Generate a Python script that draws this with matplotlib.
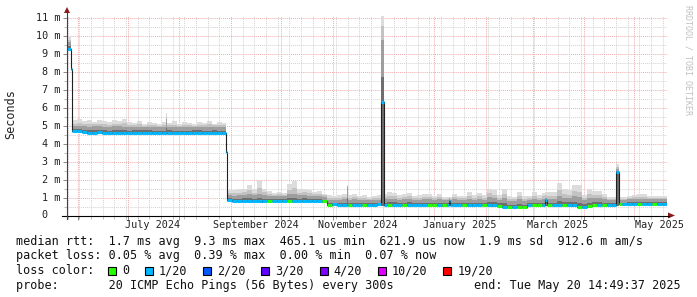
import datetime as dt
import numpy as np
import matplotlib
matplotlib.use("Agg")
import matplotlib.pyplot as plt
import matplotlib.dates as mdates
from matplotlib.lines import Line2D
from matplotlib.patches import Polygon, Rectangle
from matplotlib.ticker import FixedLocator, MultipleLocator, NullFormatter

W, H = 697, 297
MONO = "DejaVu Sans Mono"

start = dt.datetime(2024, 5, 25, 14, 49, 37)
end = dt.datetime(2025, 5, 20, 14, 49, 37)
bin_days = 3  # one value every 3 days

# median rtt in ms, one per bin
median_ms = [
    9.30, 4.72, 4.70, 4.63, 4.60, 4.62, 4.64,
    4.60, 4.58, 4.60, 4.62, 4.60, 4.58, 4.60, 4.60, 4.62, 4.60, 4.59, 4.60, 4.60,
    4.61, 4.60, 4.58, 4.60, 4.60, 4.62, 4.60, 4.60, 4.59, 4.60, 4.60, 4.60,
    0.84, 0.83, 0.82, 0.82, 0.80, 0.82, 0.82, 0.78, 0.80, 0.82,
    0.83, 0.82, 0.80, 0.82, 0.82, 0.83, 0.82, 0.82, 0.80, 0.78,
    0.60, 0.62, 0.60, 0.60, 0.58, 0.60, 0.60, 0.61, 0.60, 0.60, 0.62, 0.60,
    0.60, 0.60, 0.58, 0.60, 0.60, 0.60, 0.61, 0.60, 0.58, 0.60, 0.58, 0.56,
    0.58, 0.58, 0.57, 0.58, 0.58, 0.56, 0.58, 0.58, 0.57, 0.56, 0.55,
    0.48, 0.46, 0.46, 0.47, 0.46,
    0.56, 0.58, 0.58, 0.58, 0.58, 0.57, 0.58, 0.58, 0.57, 0.56,
    0.50, 0.50, 0.52,
    0.58, 0.60, 0.60, 0.60, 0.60,
    0.62, 0.62, 0.63, 0.62, 0.62, 0.63, 0.62, 0.62, 0.64, 0.64,
]

# top of the dark part of the smoke, ms
smoke_mid_ms = [
    9.65,
    4.98, 5.00, 4.96, 4.95, 4.97, 4.98, 4.95, 4.94, 4.96, 4.97, 4.95, 4.93, 4.94,
    4.95, 4.92, 4.94, 4.93, 4.92, 4.93, 4.95, 4.92, 4.94, 4.92, 4.93, 4.92, 4.94,
    4.92, 4.93, 4.95, 4.92, 4.93,
    1.12, 1.10, 1.12, 1.14, 1.20, 1.12, 1.22, 1.12, 1.08, 1.06,
    1.08, 1.06, 1.18, 1.20, 1.12, 1.14, 1.10, 1.08, 1.08, 1.05,
    0.88, 0.86, 0.88, 0.90, 0.88, 0.90, 0.86, 0.88, 0.84, 0.86, 0.88,
    0.90, 0.94, 0.92, 0.88, 0.90, 0.92, 0.86, 0.88, 0.90, 0.90,
    0.86, 0.90, 0.84, 0.84, 0.90, 0.86, 0.86, 0.94, 0.88, 0.92, 0.88,
    1.02, 0.98, 0.86, 1.00, 0.80, 0.78, 0.90, 0.80, 0.84, 0.94, 0.88,
    0.92, 0.94, 0.94, 1.10, 1.00, 0.98, 1.06, 1.04, 0.88, 1.00, 0.96, 0.96, 0.90, 0.86, 0.86,
    0.88, 0.88, 0.90, 0.92, 0.94, 0.94, 0.90, 0.90, 0.90, 0.90,
]

# top of the smoke (max ping), ms
smoke_top_ms = [
    9.95,
    5.30, 5.35, 5.25, 5.30, 5.20, 5.30, 5.25, 5.20, 5.30, 5.25, 5.35, 5.20, 5.15,
    5.25, 5.10, 5.20, 5.15, 5.10, 5.20, 5.15, 5.25, 5.10, 5.20, 5.15, 5.10, 5.20,
    5.15, 5.25, 5.10, 5.20, 5.15,
    1.40, 1.40, 1.45, 1.50, 1.72, 1.45, 1.96, 1.50, 1.35, 1.25,
    1.30, 1.25, 1.75, 1.90, 1.45, 1.50, 1.40, 1.30, 1.35, 1.20,
    1.15, 1.10, 1.15, 1.20, 1.15, 1.20, 1.10, 1.15, 1.05, 1.10, 1.15,
    1.20, 1.30, 1.25, 1.15, 1.20, 1.25, 1.10, 1.15, 1.20, 1.20,
    1.10, 1.20, 1.05, 1.05, 1.20, 1.10, 1.10, 1.30, 1.15, 1.25, 1.15,
    1.49, 1.40, 1.12, 1.49, 1.10, 1.05, 1.30, 1.10, 1.10, 1.30, 1.15,
    1.25, 1.30, 1.30, 1.81, 1.49, 1.40, 1.68, 1.68, 1.12, 1.49, 1.34, 1.34, 1.20, 1.02, 1.02,
    1.02, 1.02, 1.08, 1.12, 1.17, 1.17, 1.06, 1.06, 1.06, 1.06,
]

# loss colour index per bin (0 = no loss, 1 = 1/20)
loss_level = [
    1, 1, 1, 1, 1, 1, 1, 1, 1, 1,
    1, 1, 1, 1, 1, 1, 1, 1, 1, 1,
    1, 1, 1, 1, 1, 1, 1, 1, 1, 1,
    1, 1, 1, 1, 1, 1, 1, 1, 1, 1,
    0, 1, 1, 1, 0, 1, 1, 1, 1, 1,
    1, 0, 0, 1, 1, 1, 0, 1, 1, 0,
    1, 1, 1, 1, 0, 1, 1, 0, 1, 1,
    1, 1, 0, 0, 1, 0, 1, 1, 1, 0,
    1, 1, 1, 0, 1, 1, 0, 1, 0, 1,
    0, 0, 1, 0, 0, 1, 0, 1, 1, 0,
    1, 1, 0, 1, 0, 0, 1, 0, 1, 1,
    0, 1, 1, 1, 0, 1, 1, 0, 1, 1,
]

# short events (day offset from start)
spike_day = [2.6, 59.8, 95.7, 168.3, 189.3, 229.5, 287.4, 330.1]
spike_width = [0.8, 0.6, 0.6, 0.6, 1.8, 1.0, 1.0, 1.6]
spike_low_ms = [8.10, 4.55, 3.50, 0.55, 0.55, 0.55, 0.55, 0.55]
spike_median_ms = [8.15, 4.60, 3.54, 0.58, 6.34, 0.82, 0.84, 2.42]
spike_mid_ms = [8.15, 5.35, 3.54, 1.60, 9.80, 0.95, 1.00, 2.60]
spike_top_ms = [8.20, 5.69, 3.54, 1.68, 11.50, 1.05, 1.30, 2.85]

loss_labels = ["0", "1/20", "2/20", "3/20", "4/20", "10/20", "19/20"]
loss_colors = ["#26ff00", "#00b8ff", "#0059ff", "#5e00ff", "#7e00ff", "#dd00ff", "#ff0000"]

legend_lines = [
    "median rtt:  1.7 ms avg  9.3 ms max  465.1 us min  621.9 us now  1.9 ms sd  912.6 m am/s",
    "packet loss: 0.05 % avg  0.39 % max  0.00 % min  0.07 % now",
    "loss color:",
    "probe:       20 ICMP Echo Pings (56 Bytes) every 300s",
]
end_text = "end: Tue May 20 14:49:37 2025"


def fx(px):
    return px / W


def fy(py):
    return 1 - py / H


# build step segments, then cut the short events in
segs = []
for i in range(len(median_ms)):
    segs.append((i * bin_days, (i + 1) * bin_days, median_ms[i] - 0.06,
                 median_ms[i], smoke_mid_ms[i], smoke_top_ms[i], loss_level[i]))
for d, w, lo, me, mi, tp in zip(spike_day, spike_width, spike_low_ms,
                                spike_median_ms, spike_mid_ms, spike_top_ms):
    a, b = d - w / 2, d + w / 2
    out = []
    for s in segs:
        if s[1] <= a or s[0] >= b:
            out.append(s)
            continue
        if s[0] < a:
            out.append((s[0], a) + s[2:])
        if s[1] > b:
            out.append((b, s[1]) + s[2:])
    out.append((a, b, lo, me, mi, tp, 1))
    segs = sorted(out)

x0 = mdates.date2num(start)
X, LO, MED, MID, TOP = [], [], [], [], []
for s in segs:
    X += [x0 + s[0], x0 + s[1]]
    LO += [s[2]] * 2
    MED += [s[3]] * 2
    MID += [s[4]] * 2
    TOP += [s[5]] * 2
X, LO, MED, MID, TOP = map(np.array, (X, LO, MED, MID, TOP))
M1 = MED + 0.4 * (MID - MED)
M2 = MID + 0.45 * (TOP - MID)

fig = plt.figure(figsize=(W / 100, H / 100), dpi=100)
fig.patch.set_facecolor("white")
ax = fig.add_axes([fx(67), fy(215.5), 600 / W, 200 / H])
ax.set_xlim(x0, mdates.date2num(end))
ax.set_ylim(0, 11.14)
for sp in ax.spines.values():
    sp.set_visible(False)

# grid
ax.set_axisbelow(True)
ax.xaxis.set_major_locator(mdates.MonthLocator())
ax.xaxis.set_minor_locator(mdates.WeekdayLocator(byweekday=mdates.SU))
ax.yaxis.set_major_locator(MultipleLocator(1))
ax.yaxis.set_minor_locator(MultipleLocator(0.5))
ax.xaxis.set_major_formatter(NullFormatter())
ax.yaxis.set_major_formatter(NullFormatter())
ax.grid(which="minor", color="#d2d2d2", linestyle=(0, (1, 1)), linewidth=0.7)
ax.grid(which="major", color="#f0acac", linestyle=(0, (1, 1)), linewidth=0.7)
ax.tick_params(which="major", length=3, width=0.7, color="#8a8a8a")
ax.tick_params(which="minor", length=2, width=0.7, color="#bbbbbb")

# smoke
ax.fill_between(X, LO, TOP, color="#dcdcdc", lw=0)
ax.fill_between(X, LO, M2, color="#c2c2c2", lw=0)
ax.fill_between(X, LO, MID, color="#9e9e9e", lw=0)
ax.fill_between(X, LO, M1, color="#6e6e6e", lw=0)

# median
ax.plot(X, MED, color="#202020", lw=0.8)
for s in segs:
    ax.hlines(s[3], x0 + s[0], x0 + s[1], color=loss_colors[s[6]], lw=2.2,
              capstyle="butt")

# tick labels
for v in range(12):
    lab = "0" if v == 0 else f"{v} m"
    off = 19.2 if v == 0 else 7
    ax.text(-off / 600, v, lab, transform=ax.get_yaxis_transform(),
            ha="right", va="center", family=MONO, fontsize=7.3, color="#222222")
for y, m in [(2024, 7), (2024, 9), (2024, 11), (2025, 1), (2025, 3), (2025, 5)]:
    d = dt.datetime(y, m, 16)
    ax.text(mdates.date2num(d), -9 / 200, d.strftime("%B %Y"),
            transform=ax.get_xaxis_transform(), ha="center", va="center",
            family=MONO, fontsize=7.3, color="#222222", clip_on=False)

# axis lines and arrows
fig.add_artist(Line2D([fx(62), fx(669)], [fy(215.5), fy(215.5)], color="black", lw=0.8))
fig.add_artist(Line2D([fx(67), fx(67)], [fy(219), fy(12)], color="#404040", lw=0.8))
fig.add_artist(Polygon([(fx(668), fy(212.5)), (fx(675), fy(215.5)), (fx(668), fy(218.5))],
                       closed=True, color="#8b1a1a", lw=0))
fig.add_artist(Polygon([(fx(64), fy(13)), (fx(67), fy(7)), (fx(70), fy(13))],
                       closed=True, color="#8b1a1a", lw=0))

fig.text(fx(11), fy(114), "Seconds", rotation=90, ha="center", va="center",
         family=MONO, fontsize=8.5, color="#222222")
fig.text(fx(688), fy(5), "RRDTOOL / TOBI OETIKER", rotation=270, ha="center",
         va="top", family=MONO, fontsize=6, color="#c0c0c0")

# legend
for k, line in enumerate(legend_lines):
    fig.text(fx(16), fy(244.5 + 15 * k), line, ha="left", va="baseline",
             family=MONO, fontsize=8.5, color="#111111")
fig.text(fx(681), fy(289.5), end_text, ha="right", va="baseline",
         family=MONO, fontsize=8.5, color="#111111")
cw = 7.11
bx = 108
for lab, col in zip(loss_labels, loss_colors):
    fig.add_artist(Rectangle((fx(bx), fy(274.5)), 8 / W, 8 / H, facecolor=col,
                             edgecolor="black", lw=0.8))
    fig.text(fx(bx + 14), fy(274.5), lab, ha="left", va="baseline",
             family=MONO, fontsize=8.5, color="#111111")
    bx = bx + 14 + len(lab) * cw + 15.8

fig.savefig("out.png", dpi=100)
